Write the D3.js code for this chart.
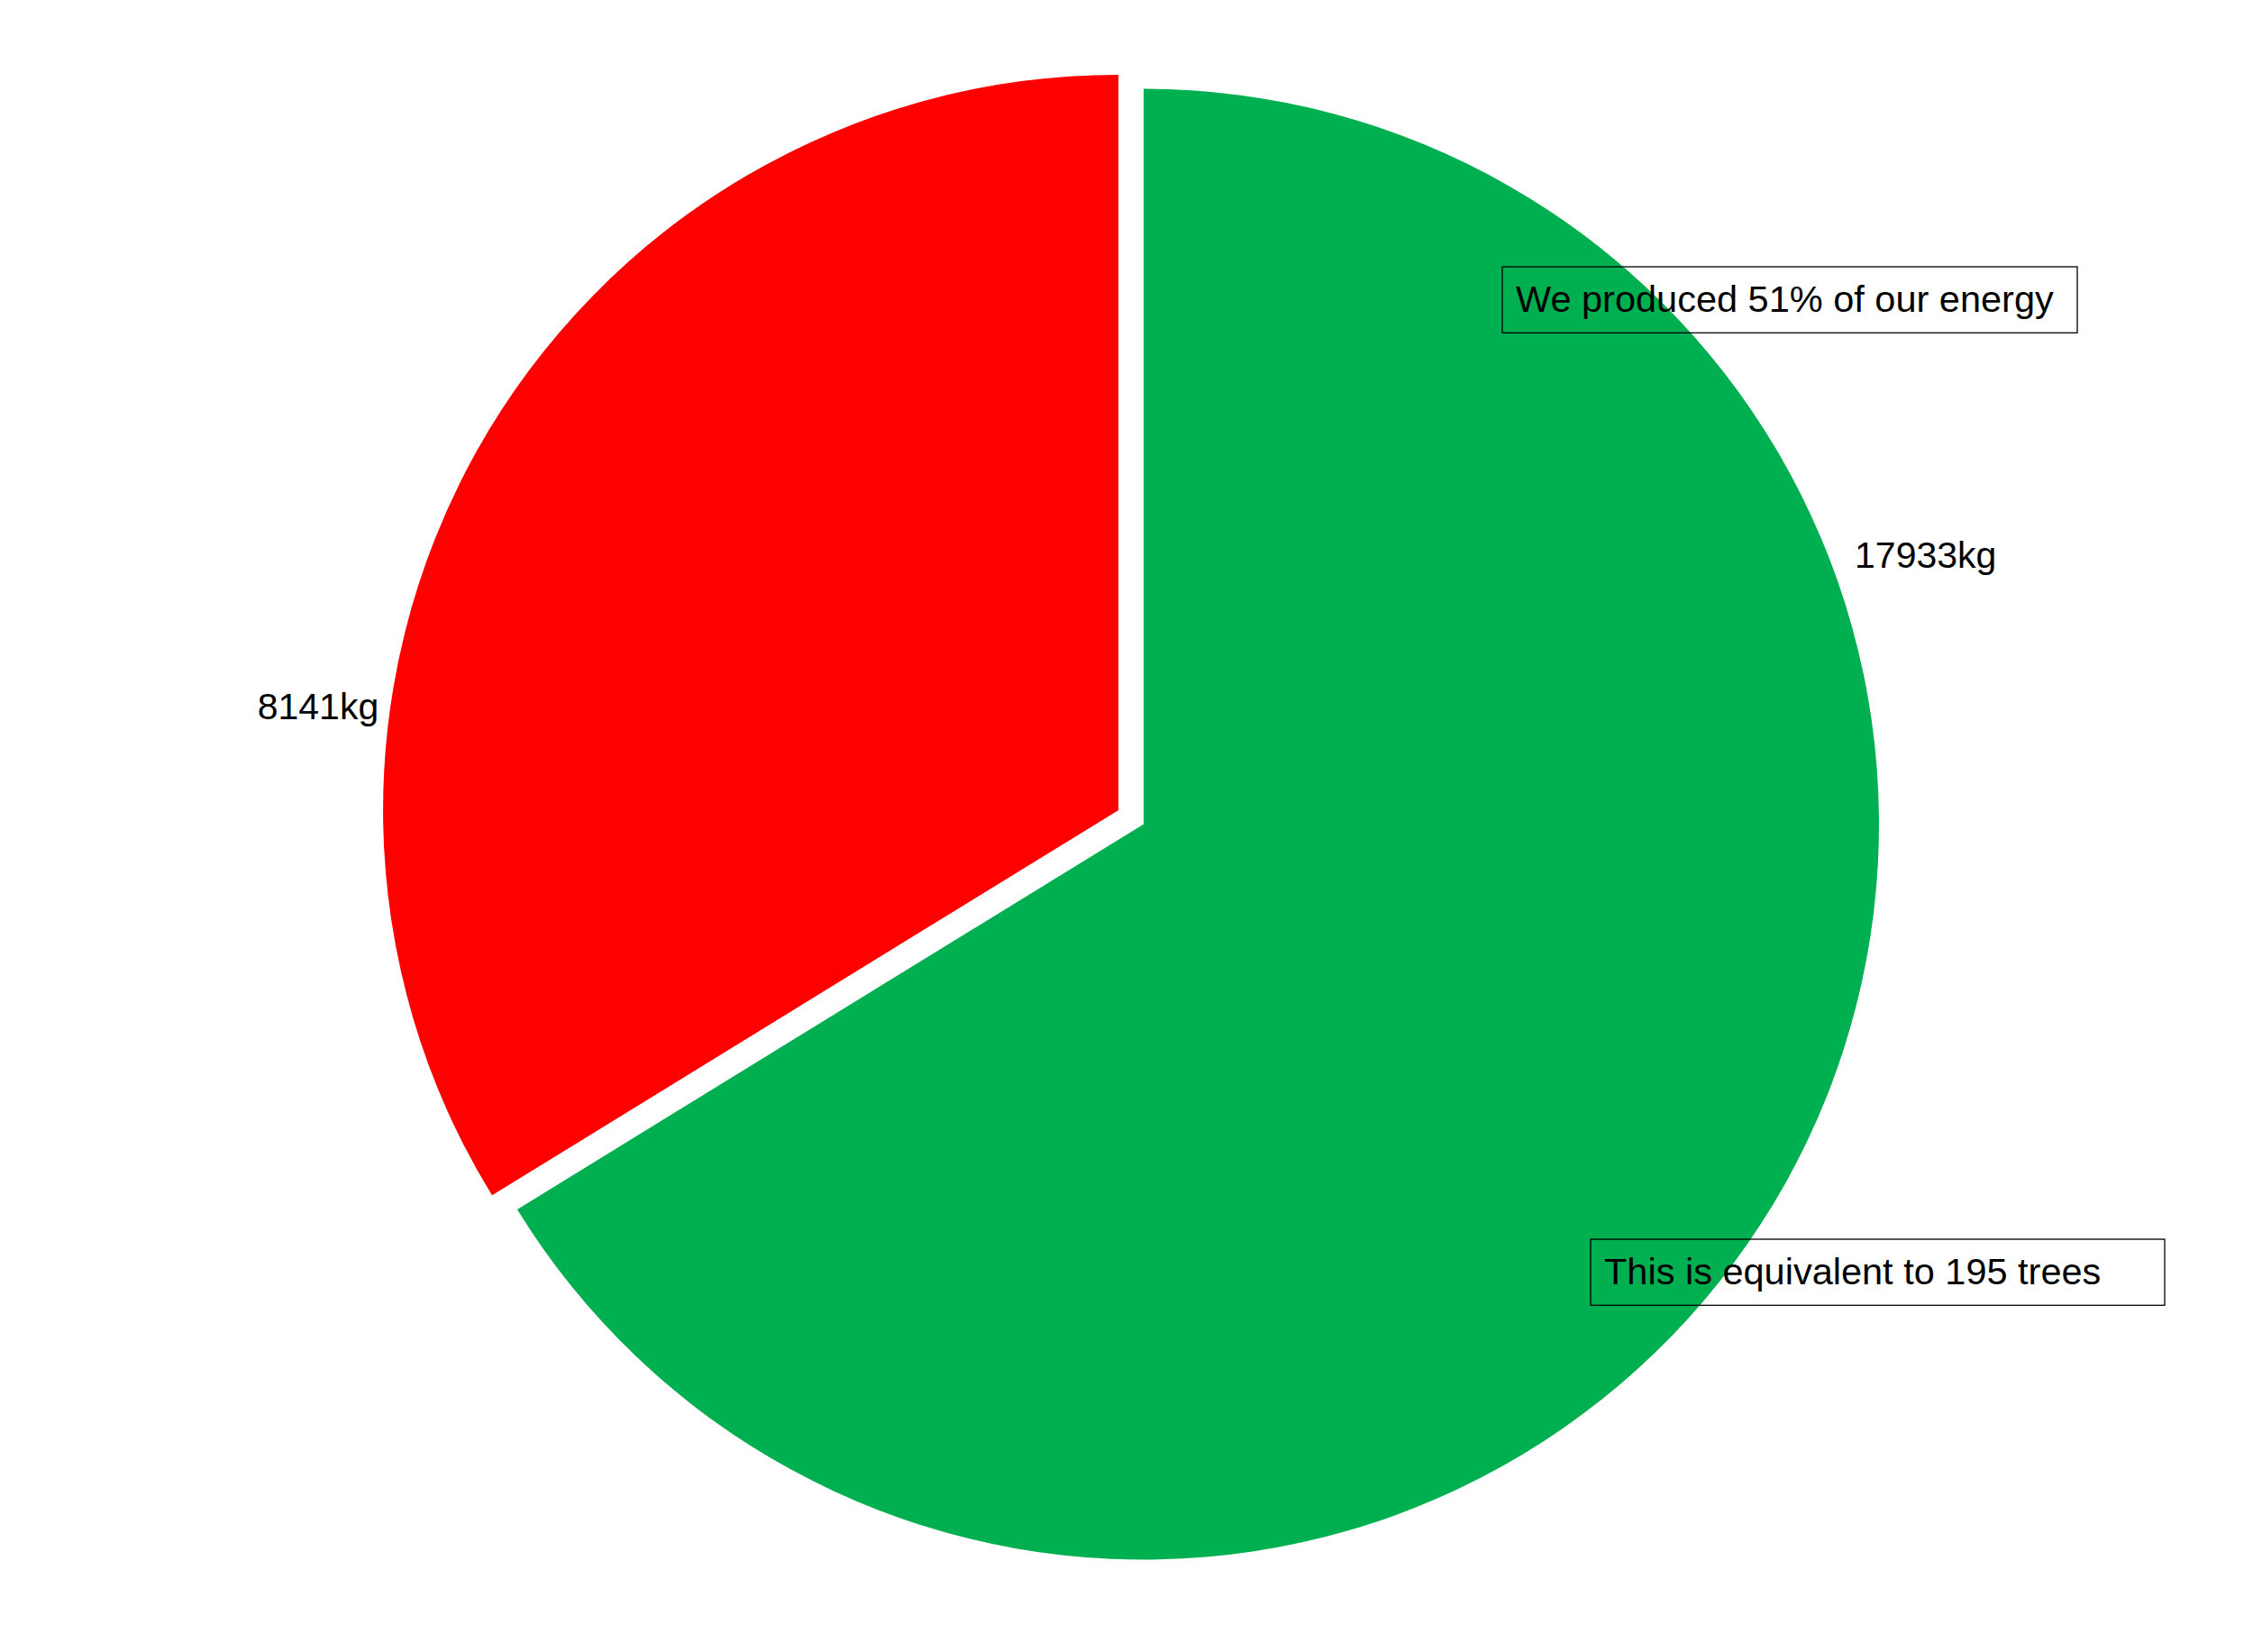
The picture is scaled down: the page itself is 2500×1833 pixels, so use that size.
<!DOCTYPE html>
<html>
<head>
<meta charset="utf-8">
<script src="https://cdn.jsdelivr.net/npm/d3@7"></script>
<style>
  body { margin: 0; background: #fff; }
  svg { display: block; font-family: "Liberation Sans", Arial, Helvetica, sans-serif; }
</style>
</head>
<body>
<svg id="chart"></svg>
<script>
// slice shares (red = produced, green = rest) and their printed labels
var sliceNames = ['produced', 'remaining'];
var sliceValues = [51, 100];
var sliceLabels = ['8141kg', '17933kg'];
var sliceColors = ['#ff0000', '#00b050'];
var explodeSlice = [true, false];

var notes = ['We produced 51% of our energy', 'This is equivalent to 195 trees'];

var width = 2500;
var height = 1833;
var cx = 1269;
var cy = 914.5;
var radius = 816;
var explodeDist = 32;
var labelSize = 41;
var noteSize = 41.5;

// label anchors in radius units, relative to the slice's own centre (dy is upward)
var labelLayout = [
  { dx: -1.006, dy: 0.124, anchor: 'end' },
  { dx: 0.967, dy: 0.349, anchor: 'start' }
];

// annotation boxes (figure pixels)
var noteLayout = [
  { x: 1667, y: 296, w: 638, h: 73.3 },
  { x: 1765, y: 1375, w: 637, h: 73.3 }
];

var svg = d3.select('#chart')
  .attr('width', width)
  .attr('height', height);

var pie = d3.pie()
  .sort(null)
  .startAngle(0)
  .endAngle(-2 * Math.PI);

var arc = d3.arc()
  .innerRadius(0)
  .outerRadius(radius);

var slices = pie(sliceValues).map(function(d, i) {
  var mid = (d.startAngle + d.endAngle) / 2;
  var dist = explodeSlice[i] ? explodeDist : 0;
  d.ox = Math.sin(mid) * dist;
  d.oy = -Math.cos(mid) * dist;
  d.i = i;
  return d;
});

var g = svg.append('g')
  .attr('transform', 'translate(' + [cx, cy] + ')');

g.selectAll('.slice')
  .data(slices).enter().append('path')
  .classed('slice', true)
  .attr('transform', function(d) { return 'translate(' + [d.ox, d.oy] + ')'; })
  .attr('d', arc)
  .attr('fill', function(d) { return sliceColors[d.i]; });

g.selectAll('.label')
  .data(slices).enter().append('text')
  .classed('label', true)
  .attr('x', function(d) { return d.ox + labelLayout[d.i].dx * radius; })
  .attr('y', function(d) { return d.oy - labelLayout[d.i].dy * radius; })
  .attr('text-anchor', function(d) { return labelLayout[d.i].anchor; })
  .attr('font-size', labelSize)
  .attr('fill', '#000')
  .text(function(d) { return sliceLabels[d.i]; });

var boxes = svg.selectAll('.note')
  .data(notes).enter().append('g')
  .classed('note', true)
  .attr('transform', function(d, i) { return 'translate(' + [noteLayout[i].x, noteLayout[i].y] + ')'; });

boxes.append('rect')
  .attr('width', function(d, i) { return noteLayout[i].w; })
  .attr('height', function(d, i) { return noteLayout[i].h; })
  .attr('fill', 'none')
  .attr('stroke', '#000')
  .attr('stroke-width', 1.3);

boxes.append('text')
  .attr('x', 15)
  .attr('y', 49.5)
  .attr('font-size', noteSize)
  .text(function(d) { return d; });
</script>
</body>
</html>
